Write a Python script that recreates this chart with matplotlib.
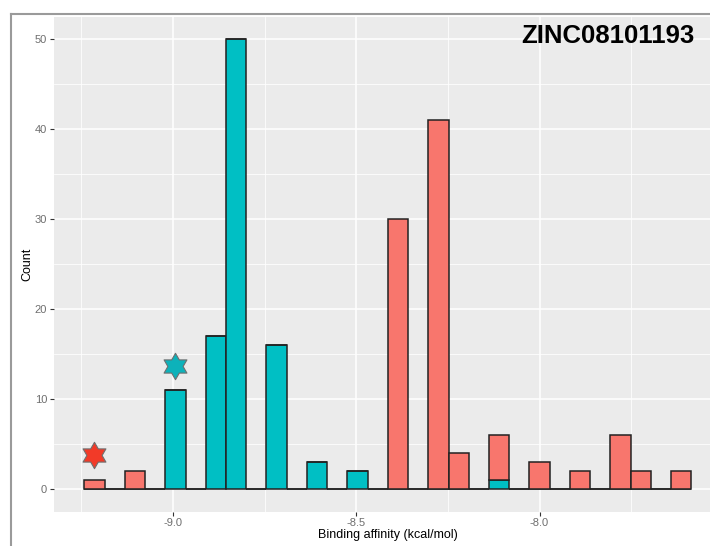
import numpy as np
import matplotlib
matplotlib.use("Agg")
import matplotlib.pyplot as plt
from matplotlib.path import Path
from matplotlib.lines import Line2D

plt.rcParams['font.family'] = ['Liberation Sans', 'DejaVu Sans']
plt.rcParams['axes.unicode_minus'] = False

# ---- data (binding affinity values in kcal/mol, counts per group) ----
teal_affinity = [-9.0, -8.9, -8.8, -8.7, -8.6, -8.5, -8.1]
teal_counts   = [11,   17,   50,   16,   3,    2,    1]
red_affinity  = [-9.2, -9.1, -8.4, -8.3, -8.2, -8.1, -8.0, -7.9, -7.8, -7.7, -7.6]
red_counts    = [1,    2,    30,   41,   4,    5,    3,    2,    6,    2,    2]
star_affinity = [-9.2, -9.0]
star_count    = [3.8, 13.7]
star_colors   = ['#F23A28', '#0DB2BA']
title_text = "ZINC08101193"
x_ticks = [-9.0, -8.5, -8.0]
x_ticklabels = ["-9.0", "-8.5", "-8.0"]
y_ticks = [0, 10, 20, 30, 40, 50]

TEAL = '#00BFC4'
SALMON = '#F8766D'

# ---- ggplot2-like binning (bins = 30) ----
all_vals = np.array(teal_affinity + red_affinity, dtype=float)
lo, hi = all_vals.min(), all_vals.max()
nbins = 30
w = (hi - lo) / (nbins - 1)

def bin_index(x):
    return int(np.ceil(np.asarray(x) / w - 0.5 - 1e-7))

n_lo = bin_index(lo)
n_hi = bin_index(hi)
idx = np.arange(n_lo, n_hi + 1)
centers = idx * w

teal_h = np.zeros(len(idx))
red_h = np.zeros(len(idx))
for v, c in zip(teal_affinity, teal_counts):
    teal_h[bin_index(v) - n_lo] += c
for v, c in zip(red_affinity, red_counts):
    red_h[bin_index(v) - n_lo] += c

# ---- figure ----
W, H = 710, 546
fig = plt.figure(figsize=(W / 100, H / 100), dpi=100)
fig.patch.set_facecolor('white')

xmin = centers[0] - w / 2
xmax = centers[-1] + w / 2
xr = xmax - xmin
xlim = (xmin - 0.05 * xr, xmax + 0.05 * xr)

px_per_unit = 366.7
left_px = 54.0
right_px = left_px + (xlim[1] - xlim[0]) * px_per_unit
top_px, bot_px = 16.5, 511.5
ax = fig.add_axes([left_px / W, 1 - bot_px / H, (right_px - left_px) / W, (bot_px - top_px) / H])
ax.set_facecolor('#EBEBEB')
for s in ax.spines.values():
    s.set_visible(False)

ax.set_xlim(*xlim)
ax.set_ylim(-2.5, 52.5)

ax.set_xticks(x_ticks)
ax.set_xticklabels(x_ticklabels)
ax.set_xticks([-9.25, -8.75, -8.25, -7.75], minor=True)
ax.set_yticks(y_ticks)
ax.set_yticks([5, 15, 25, 35, 45], minor=True)
ax.grid(True, which='major', color='white', linewidth=1.1)
ax.grid(True, which='minor', color='white', linewidth=0.55)
ax.set_axisbelow(True)
ax.tick_params(which='major', length=2.9, width=0.8, color='#333333',
               labelsize=8, labelcolor='#6E6E6E', pad=2.0)
ax.tick_params(which='minor', length=0)

ax.bar(centers, teal_h, width=w, color=TEAL, edgecolor='#222222', linewidth=1.1, zorder=3)
ax.bar(centers, red_h, width=w, bottom=teal_h, color=SALMON, edgecolor='#222222', linewidth=1.1, zorder=3)

# star markers (hexagrams)
hexagram = Path.unit_regular_star(6, innerCircle=0.577)
for xa, yc, col in zip(star_affinity, star_count, star_colors):
    xc = bin_index(xa) * w
    ax.plot([xc], [yc], marker=hexagram, markersize=19, color=col,
            markeredgecolor='#6F6F6F', markeredgewidth=0.8, linestyle='none', zorder=4)

ax.text((694 - left_px) / (right_px - left_px), (bot_px - 36) / (bot_px - top_px), title_text,
        transform=ax.transAxes, ha='right', va='center', fontsize=18.5,
        fontweight='bold', color='black', zorder=5)

ax.set_xlabel("Binding affinity (kcal/mol)", fontsize=9, color='black')
ax.set_ylabel("Count", fontsize=9, color='black')
ax.xaxis.set_label_coords((388 - left_px) / (right_px - left_px), (bot_px - 535) / (bot_px - top_px))
ax.xaxis.label.set_va('center')
ax.yaxis.set_label_coords((27 - left_px) / (right_px - left_px), 0.5)
ax.yaxis.label.set_va('center')

# screenshot frame (top and left grey border)
fig.add_artist(Line2D([11 / W, 1.0], [1 - 14 / H, 1 - 14 / H], color='#9A9A9A', linewidth=1.5,
                      transform=fig.transFigure))
fig.add_artist(Line2D([11 / W, 11 / W], [1 - 14 / H, 0.0], color='#9A9A9A', linewidth=1.5,
                      transform=fig.transFigure))

fig.savefig("out.png", dpi=100)
